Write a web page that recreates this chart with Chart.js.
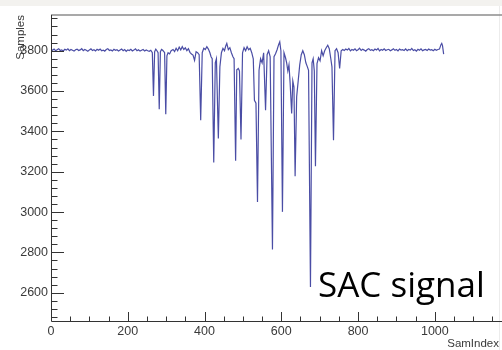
<!DOCTYPE html>
<html>
<head>
<meta charset="utf-8">
<script src="https://cdn.jsdelivr.net/npm/chart.js@4"></script>
<style>
  body { margin: 0; background: #fff; }
  canvas { display: block; }
</style>
</head>
<body>
<canvas id="sacChart" width="502" height="350"></canvas>
<script>
// quiet baseline before the pulses, one reading every 4 samples from 0 to 260
const baselineStart = 0, baselineStep = 4;
const baselineBefore = [
  3806, 3802, 3808, 3800, 3805, 3810, 3801, 3804, 3799, 3807, 3803, 3809, 3800, 3806, 3802, 3798, 3805, 3808, 3801, 3804,
  3810, 3800, 3806, 3802, 3797, 3804, 3809, 3801, 3805, 3799, 3807, 3802, 3808, 3800, 3803, 3798, 3806, 3810, 3801, 3804,
  3799, 3807, 3802, 3805, 3798, 3803, 3808, 3800, 3806, 3797, 3804, 3801, 3807, 3799, 3803, 3809, 3800, 3805, 3798, 3802,
  3806, 3799, 3804, 3800, 3797, 3802
];

// pulse region (sample index -> ADC samples)
const pulseIndex = [
  264, 267, 270, 273, 276, 279, 282, 285, 288, 291, 294, 296, 299, 302, 305, 309,
  313, 318, 322, 326, 330, 334, 338, 342, 346, 350, 354, 358, 362, 366, 370, 374,
  378, 382, 386, 390, 394, 398, 402, 406, 410, 414, 417, 420, 424, 428, 431, 436,
  440, 444, 448, 452, 455, 458, 462, 466, 470, 474, 477, 481, 484, 488, 491, 495,
  499, 503, 507, 511, 515, 519, 523, 527, 530, 534, 538, 542, 546, 550, 554, 559,
  563, 567, 571, 577, 581, 585, 589, 593, 596, 599, 603, 607, 611, 614, 617, 620,
  623, 627, 630, 633, 636, 640, 644, 648, 652, 656, 660, 664, 668, 671, 676, 680,
  683, 686, 689, 693, 697, 701, 705, 709, 713, 717, 721, 725, 729, 732, 736, 740,
  744, 748, 752, 756, 760
];
const pulseSamples = [
  3790, 3576, 3795, 3808, 3800, 3790, 3510, 3795, 3806, 3802, 3795, 3790, 3485, 3775, 3790, 3784,
  3800, 3806, 3796, 3812, 3800, 3818, 3804, 3820, 3806, 3814, 3800, 3810, 3792, 3784, 3778, 3752,
  3795, 3790, 3780, 3455, 3790, 3812, 3806, 3820, 3808, 3790, 3770, 3760, 3246, 3740, 3760, 3365,
  3720, 3790, 3812, 3800, 3822, 3836, 3805, 3815, 3790, 3770, 3760, 3254, 3705, 3712, 3700, 3360,
  3790, 3815, 3800, 3820, 3805, 3812, 3790, 3760, 3554, 3540, 3050, 3703, 3760, 3740, 3790, 3505,
  3780, 3800, 3770, 2814, 3770, 3785, 3805, 3830, 3844, 3800, 3001, 3790, 3765, 3740, 3700, 3730,
  3640, 3489, 3650, 3620, 3178, 3571, 3650, 3730, 3780, 3800, 3780, 3740, 3720, 3703, 2629, 3740,
  3760, 3700, 3227, 3736, 3765, 3750, 3800, 3775, 3800, 3815, 3827, 3810, 3760, 3720, 3356, 3800,
  3810, 3790, 3712, 3800, 3806
];

// quiet baseline after the pulses, every 4 samples from 764 to 1012
const baselineAfterStart = 764;
const baselineAfter = [
  3801, 3808, 3803, 3811, 3799, 3806, 3802, 3809, 3800, 3805, 3812, 3801, 3807, 3803, 3798, 3806, 3810, 3802, 3805, 3800,
  3808, 3803, 3811, 3799, 3806, 3802, 3809, 3801, 3805, 3807, 3800, 3804, 3810, 3802, 3806, 3799, 3808, 3803, 3805, 3801,
  3809, 3800, 3806, 3803, 3811, 3801, 3805, 3798, 3807, 3802, 3809, 3800, 3804, 3806, 3801, 3808, 3803, 3805, 3800, 3807,
  3802, 3806, 3808
];

// last few samples of the record
const tailIndex = [1016, 1018, 1020, 1023];
const tailSamples = [3830, 3836, 3825, 3783];

const xRange = [0, 1175];
const yRange = [2460, 3977];
const xLabelStep = 200, xMinorStep = 50;
const yLabelStep = 200, yMinorStep = 40;

const points = [].concat(
  baselineBefore.map((y, i) => ({ x: baselineStart + i * baselineStep, y: y })),
  pulseIndex.map((x, i) => ({ x: x, y: pulseSamples[i] })),
  baselineAfter.map((y, i) => ({ x: baselineAfterStart + i * baselineStep, y: y })),
  tailIndex.map((x, i) => ({ x: x, y: tailSamples[i] }))
);

function tickValues(lo, hi, step) {
  const out = [];
  for (let v = Math.ceil(lo / step) * step; v <= hi; v += step) out.push(v);
  return out;
}

const axisFont = { family: 'Liberation Sans, Arial, sans-serif', size: 12.5 };

const frame = {
  id: 'frame',
  beforeDraw(chart) {
    const ctx = chart.ctx;
    ctx.save();
    ctx.fillStyle = '#ffffff';
    ctx.fillRect(0, 0, chart.width, chart.height);
    ctx.fillStyle = '#f3f2ef';
    ctx.fillRect(0, 0, chart.width, 6);
    ctx.strokeStyle = '#ececec';
    ctx.beginPath();
    ctx.moveTo(499.5, 6);
    ctx.lineTo(499.5, chart.height);
    ctx.stroke();
    ctx.restore();
  },
  afterDraw(chart) {
    const ctx = chart.ctx;
    const a = chart.chartArea;
    const xs = chart.scales.x, ys = chart.scales.y;
    ctx.save();
    // top frame
    ctx.strokeStyle = '#8c8c8c';
    ctx.lineWidth = 1.5;
    ctx.beginPath();
    ctx.moveTo(a.left, a.top);
    ctx.lineTo(a.right, a.top);
    ctx.stroke();
    // axes
    ctx.strokeStyle = '#333333';
    ctx.lineWidth = 1;
    ctx.beginPath();
    ctx.moveTo(a.left + 0.5, a.top);
    ctx.lineTo(a.left + 0.5, a.bottom + 0.5);
    ctx.lineTo(a.right, a.bottom + 0.5);
    ctx.stroke();
    // ticks pointing inwards
    ctx.beginPath();
    xs.ticks.forEach(t => {
      const px = Math.round(xs.getPixelForValue(t.value)) + 0.5;
      const len = t.value % xLabelStep === 0 ? 9 : 4.5;
      ctx.moveTo(px, a.bottom);
      ctx.lineTo(px, a.bottom - len);
    });
    ys.ticks.forEach(t => {
      const py = Math.round(ys.getPixelForValue(t.value)) + 0.5;
      const len = t.value % yLabelStep === 0 ? 13 : 6.5;
      ctx.moveTo(a.left, py);
      ctx.lineTo(a.left + len, py);
    });
    ctx.stroke();
    // axis titles
    ctx.fillStyle = '#3a3a3a';
    ctx.font = '11.5px "Liberation Sans", Arial, sans-serif';
    ctx.textAlign = 'right';
    ctx.textBaseline = 'alphabetic';
    ctx.fillText('SamIndex', 499, 347);
    ctx.translate(24, a.top);
    ctx.rotate(-Math.PI / 2);
    ctx.fillText('Samples', 0, 0);
    ctx.restore();
    // annotation
    ctx.save();
    ctx.fillStyle = '#000000';
    ctx.font = '35px "Open Sans", sans-serif';
    ctx.textAlign = 'left';
    ctx.textBaseline = 'alphabetic';
    ctx.fillText('SAC signal', 318, 297);
    ctx.restore();
  }
};

new Chart(document.getElementById('sacChart').getContext('2d'), {
  type: 'line',
  data: {
    datasets: [{
      label: 'SAC signal',
      data: points,
      borderColor: '#4a4da5',
      borderWidth: 1.2,
      pointRadius: 0,
      tension: 0,
      fill: false
    }]
  },
  options: {
    responsive: false,
    animation: false,
    events: [],
    layout: { padding: { top: 15, left: 0, right: 0, bottom: 0 } },
    plugins: { legend: { display: false }, tooltip: { enabled: false } },
    scales: {
      x: {
        type: 'linear',
        min: xRange[0],
        max: xRange[1],
        afterFit: s => { s.height = 29; },
        afterBuildTicks: s => { s.ticks = tickValues(xRange[0], xRange[1], xMinorStep).map(v => ({ value: v })); },
        grid: { display: false, drawTicks: false },
        border: { display: false },
        ticks: {
          autoSkip: false,
          maxRotation: 0,
          padding: 3,
          color: '#3a3a3a',
          font: axisFont,
          callback: v => (v % xLabelStep === 0 ? String(v) : '')
        }
      },
      y: {
        type: 'linear',
        min: yRange[0],
        max: yRange[1],
        afterFit: s => { s.width = 51; },
        afterBuildTicks: s => { s.ticks = tickValues(yRange[0], yRange[1], yMinorStep).map(v => ({ value: v })); },
        grid: { display: false, drawTicks: false },
        border: { display: false },
        ticks: {
          autoSkip: false,
          padding: 3,
          color: '#3a3a3a',
          font: axisFont,
          callback: v => (v % yLabelStep === 0 ? String(v) : '')
        }
      }
    }
  },
  plugins: [frame]
});
</script>
</body>
</html>
